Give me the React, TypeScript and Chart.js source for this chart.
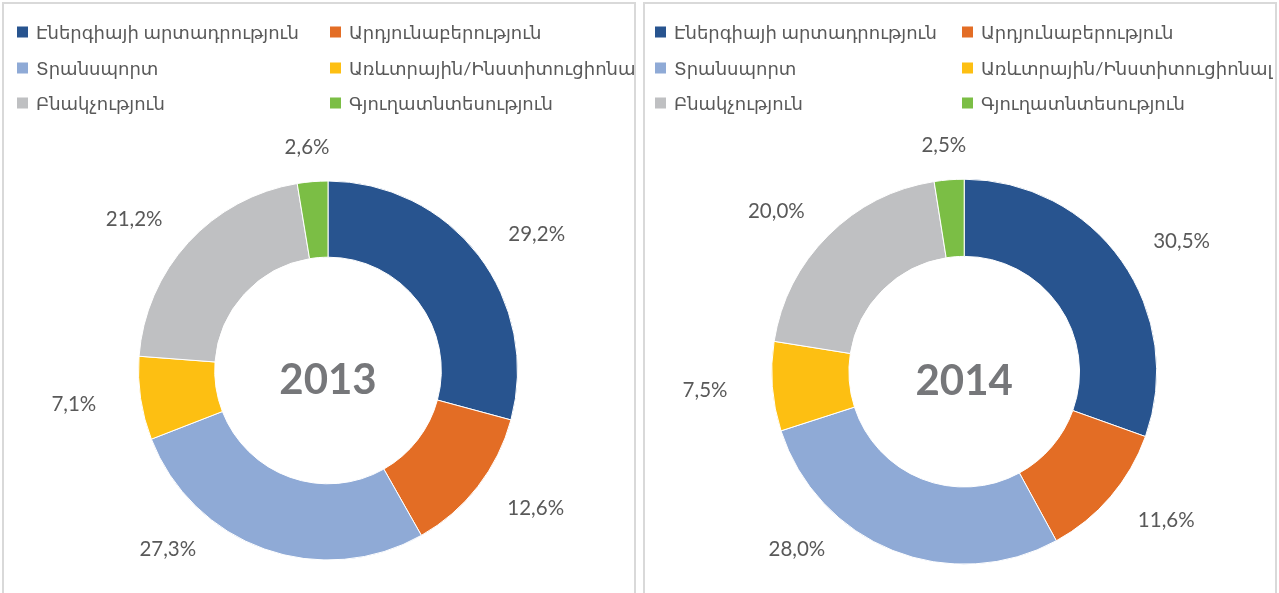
import React, { useEffect, useRef } from 'react';
import { Chart, registerables } from 'chart.js';

Chart.register(...registerables);

// ---- data ----
const categories = [
  'Էներգիայի արտադրություն',
  'Արդյունաբերություն',
  'Տրանսպորտ',
  'Առևտրային/Ինստիտուցիոնալ',
  'Բնակչություն',
  'Գյուղատնտեսություն',
];
const values2013 = [29.2, 12.6, 27.3, 7.1, 21.2, 2.6];
const values2014 = [30.5, 11.6, 28.0, 7.5, 20.0, 2.5];
const years = ['2013', '2014'];
const sliceColors = ['#28548F', '#E36D25', '#8FAAD6', '#FDBF12', '#BFC0C2', '#7BBE45'];

// ---- layout (page/canvas geometry, not data) ----
const CANVAS_W = 630;
const CANVAS_H = 589;
const TEXT_COLOR = '#595959';
const CENTER_COLOR = '#76777A';
const LABEL_FONT_SIZE = 20.5;
const LEGEND_FONT_SIZE = 18;
const CENTER_FONT_SIZE = 42;

type PanelCfg = {
  left: number;
  cx: number;
  cy: number;
  radius: number;
  cutout: number;
  legendBoxX: [number, number];
  values: number[];
  year: string;
};

const panels: PanelCfg[] = [
  { left: 2, cx: 324, cy: 366.5, radius: 189.5, cutout: 113, legendBoxX: [13, 326], values: values2013, year: years[0] },
  { left: 643, cx: 319.2, cy: 367.7, radius: 192.5, cutout: 115, legendBoxX: [10, 317], values: values2014, year: years[1] },
];

const legendRowsY = [28, 64, 99];
const fmt = (v: number) => v.toFixed(1).replace('.', ',') + '%';

function makeOverlay(cfg: PanelCfg) {
  return {
    id: 'overlay',
    afterDraw(chart: any) {
      const ctx: CanvasRenderingContext2D = chart.ctx;
      const meta = chart.getDatasetMeta(0);
      const ds = chart.data.datasets[0];
      const labels: string[] = chart.data.labels;
      ctx.save();

      // legend (2 columns x 3 rows)
      ctx.font = `${LEGEND_FONT_SIZE}px Lato, "DejaVu Sans", sans-serif`;
      ctx.textAlign = 'left';
      ctx.textBaseline = 'middle';
      labels.forEach((lab, i) => {
        const col = i % 2;
        const row = Math.floor(i / 2);
        const bx = cfg.legendBoxX[col];
        const by = legendRowsY[row];
        ctx.fillStyle = ds.backgroundColor[i];
        ctx.fillRect(bx, by - 5.5, 11, 11);
        ctx.fillStyle = TEXT_COLOR;
        ctx.fillText(lab, bx + 19, by + 1);
      });

      // percentage labels outside the ring (text box pushed out from an ellipse)
      ctx.font = `${LABEL_FONT_SIZE}px Lato, "Open Sans", sans-serif`;
      ctx.textAlign = 'center';
      ctx.textBaseline = 'alphabetic';
      ctx.fillStyle = TEXT_COLOR;
      const maxY = CANVAS_H - 44.5;
      const boxH = 20;
      meta.data.forEach((arc: any, i: number) => {
        const p = arc.getProps(['x', 'y', 'startAngle', 'endAngle', 'outerRadius'], true);
        const a = (p.startAngle + p.endAngle) / 2;
        const text = fmt(ds.data[i]);
        const w = ctx.measureText(text).width;
        const rx = p.outerRadius + 45 + w / 2;
        const ry = p.outerRadius + 25 + boxH / 2;
        let x = p.x + rx * Math.cos(a);
        let y = p.y + ry * Math.sin(a);
        if (y > maxY) {
          const s = Math.min((maxY - p.y) / ry, 1);
          const c = Math.sqrt(Math.max(1 - s * s, 0));
          x = p.x + (Math.cos(a) < 0 ? -c : c) * rx;
          y = maxY;
        }
        ctx.fillText(text, x, y + 0.36 * LABEL_FONT_SIZE);
      });

      // center year
      const a0 = meta.data[0];
      ctx.font = `bold ${CENTER_FONT_SIZE}px Lato, "Open Sans", sans-serif`;
      ctx.fillStyle = CENTER_COLOR;
      ctx.textAlign = 'center';
      ctx.fillText(cfg.year, a0.x, a0.y + 8 + 0.36 * CENTER_FONT_SIZE);
      ctx.restore();
    },
  };
}

function DonutPanel({ cfg }: { cfg: PanelCfg }) {
  const ref = useRef<HTMLCanvasElement | null>(null);
  useEffect(() => {
    if (!ref.current) return;
    const chart = new Chart(ref.current, {
      type: 'doughnut',
      data: {
        labels: categories,
        datasets: [
          {
            data: cfg.values,
            backgroundColor: sliceColors,
            borderColor: '#ffffff',
            borderWidth: 1,
          },
        ],
      },
      options: {
        responsive: false,
        animation: false,
        radius: cfg.radius,
        cutout: cfg.cutout,
        layout: {
          padding: {
            left: cfg.cx - cfg.radius,
            top: cfg.cy - cfg.radius,
            right: CANVAS_W - cfg.cx - cfg.radius,
            bottom: CANVAS_H - cfg.cy - cfg.radius,
          },
        },
        plugins: {
          legend: { display: false },
          tooltip: { enabled: false },
        },
      } as any,
      plugins: [makeOverlay(cfg)],
    });
    return () => chart.destroy();
  }, [cfg]);

  return (
    <div
      style={{
        position: 'absolute',
        left: cfg.left,
        top: 2,
        width: 630,
        height: 620,
        border: '2px solid #D9D9D9',
        background: '#ffffff',
        overflow: 'hidden',
      }}
    >
      <canvas
        ref={ref}
        width={CANVAS_W}
        height={CANVAS_H}
        style={{ position: 'absolute', left: 0, top: 0, width: CANVAS_W, height: CANVAS_H }}
      />
    </div>
  );
}

export default function App() {
  return (
    <div
      style={{
        position: 'absolute',
        left: 0,
        top: 0,
        width: 1279,
        height: 593,
        background: '#ffffff',
        overflow: 'hidden',
      }}
    >
      {panels.map((p) => (
        <DonutPanel key={p.year} cfg={p} />
      ))}
    </div>
  );
}
